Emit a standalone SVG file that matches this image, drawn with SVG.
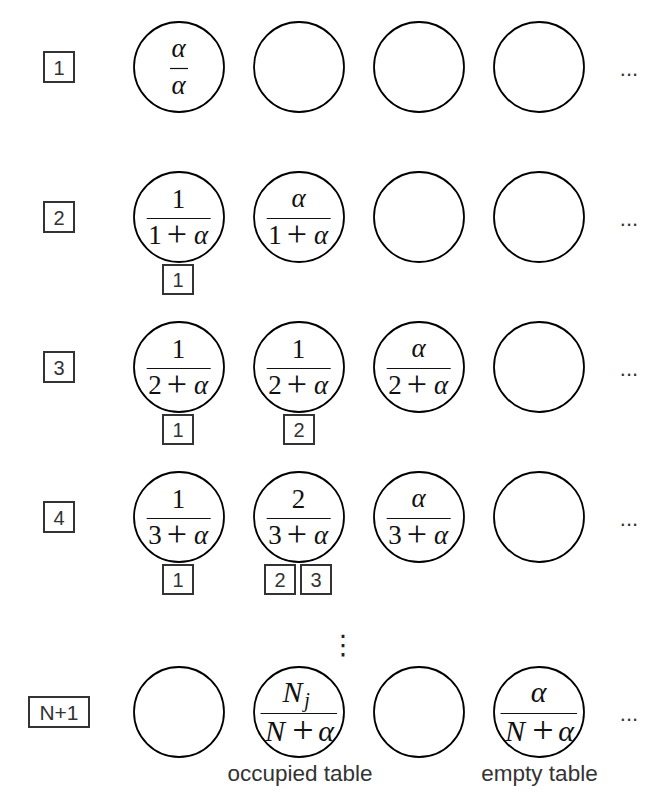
<svg xmlns="http://www.w3.org/2000/svg" width="667" height="803" viewBox="0 0 667 803">
<style>
.tbl{fill:none;stroke:#000;stroke-width:1.8}
.box{fill:none;stroke:#333;stroke-width:2}
.lbl{font-family:"Liberation Sans",Arial,sans-serif;font-size:20px;fill:#333;text-anchor:middle}
.cap{font-family:"Liberation Sans",Arial,sans-serif;font-size:22.5px;fill:#333;text-anchor:middle}
.dots{font-family:"Liberation Sans",Arial,sans-serif;font-size:22px;fill:#333;text-anchor:middle}
.m{font-family:"Liberation Serif","Times New Roman",serif;font-size:27px;fill:#111;text-anchor:middle}
.m5{font-family:"Liberation Serif","Times New Roman",serif;font-size:30px;fill:#111;text-anchor:middle}
.i{font-style:italic}
.pl{font-size:36px;font-weight:300}
.fl{stroke:#111;stroke-width:1.2}
</style>
<rect width="667" height="803" fill="#fff"/>

<!-- step labels -->
<g id="step-1"><rect class="box" x="44" y="52" width="30" height="30"/><text class="lbl" x="59" y="74.5">1</text></g>
<g id="step-2"><rect class="box" x="44" y="202" width="30" height="30"/><text class="lbl" x="59" y="224.5">2</text></g>
<g id="step-3"><rect class="box" x="44" y="352" width="30" height="30"/><text class="lbl" x="59" y="374.5">3</text></g>
<g id="step-4"><rect class="box" x="44" y="502" width="30" height="30"/><text class="lbl" x="59" y="524.5">4</text></g>
<g id="step-n1"><rect class="box" x="29" y="697" width="60" height="30"/><text class="lbl" x="59" y="719.5" style="font-size:21px">N+1</text></g>

<!-- row 1 -->
<g id="r1-t1"><circle class="tbl" cx="179" cy="67" r="45"/>
<text class="m i" x="178.5" y="57">α</text><line class="fl" x1="170" y1="68.5" x2="188" y2="68.5"/><text class="m i" x="178.5" y="94">α</text></g>
<g id="r1-t2"><circle class="tbl" cx="299" cy="67" r="45"/></g>
<g id="r1-t3"><circle class="tbl" cx="419" cy="67" r="45"/></g>
<g id="r1-t4"><circle class="tbl" cx="539" cy="67" r="45"/></g>
<text class="dots" x="629" y="75.5">...</text>

<!-- row 2 -->
<g id="r2-t1"><circle class="tbl" cx="179" cy="217" r="45"/>
<text class="m" x="178.5" y="208">1</text><line class="fl" x1="146.7" y1="218.5" x2="210.7" y2="218.5"/>
<text class="m" x="155" y="243.5">1</text><text class="m pl" x="177" y="245.5">+</text><text class="m i" x="201" y="243.5">α</text></g>
<g id="r2-t2"><circle class="tbl" cx="299" cy="217" r="45"/>
<text class="m i" x="298.5" y="207">α</text><line class="fl" x1="266.7" y1="218.5" x2="330.7" y2="218.5"/>
<text class="m" x="275" y="243.5">1</text><text class="m pl" x="297" y="245.5">+</text><text class="m i" x="321" y="243.5">α</text></g>
<g id="r2-t3"><circle class="tbl" cx="419" cy="217" r="45"/></g>
<g id="r2-t4"><circle class="tbl" cx="539" cy="217" r="45"/></g>
<g id="r2-c1"><rect class="box" x="163" y="265" width="30" height="29"/><text class="lbl" x="178" y="286.5">1</text></g>
<text class="dots" x="629" y="225.5">...</text>

<!-- row 3 -->
<g id="r3-t1"><circle class="tbl" cx="179" cy="367" r="45"/>
<text class="m" x="178.5" y="358">1</text><line class="fl" x1="146.7" y1="368.5" x2="210.7" y2="368.5"/>
<text class="m" x="155" y="393.5">2</text><text class="m pl" x="177" y="395.5">+</text><text class="m i" x="201" y="393.5">α</text></g>
<g id="r3-t2"><circle class="tbl" cx="299" cy="367" r="45"/>
<text class="m" x="298.5" y="358">1</text><line class="fl" x1="266.7" y1="368.5" x2="330.7" y2="368.5"/>
<text class="m" x="275" y="393.5">2</text><text class="m pl" x="297" y="395.5">+</text><text class="m i" x="321" y="393.5">α</text></g>
<g id="r3-t3"><circle class="tbl" cx="419" cy="367" r="45"/>
<text class="m i" x="418.5" y="357">α</text><line class="fl" x1="386.7" y1="368.5" x2="450.7" y2="368.5"/>
<text class="m" x="395" y="393.5">2</text><text class="m pl" x="417" y="395.5">+</text><text class="m i" x="441" y="393.5">α</text></g>
<g id="r3-t4"><circle class="tbl" cx="539" cy="367" r="45"/></g>
<g id="r3-c1"><rect class="box" x="163" y="415" width="30" height="29"/><text class="lbl" x="178" y="436.5">1</text></g>
<g id="r3-c2"><rect class="box" x="284" y="415" width="30" height="29"/><text class="lbl" x="299" y="436.5">2</text></g>
<text class="dots" x="629" y="375.5">...</text>

<!-- row 4 -->
<g id="r4-t1"><circle class="tbl" cx="179" cy="517" r="45"/>
<text class="m" x="178.5" y="508">1</text><line class="fl" x1="146.7" y1="518.5" x2="210.7" y2="518.5"/>
<text class="m" x="155" y="543.5">3</text><text class="m pl" x="177" y="545.5">+</text><text class="m i" x="201" y="543.5">α</text></g>
<g id="r4-t2"><circle class="tbl" cx="299" cy="517" r="45"/>
<text class="m" x="298.5" y="508">2</text><line class="fl" x1="266.7" y1="518.5" x2="330.7" y2="518.5"/>
<text class="m" x="275" y="543.5">3</text><text class="m pl" x="297" y="545.5">+</text><text class="m i" x="321" y="543.5">α</text></g>
<g id="r4-t3"><circle class="tbl" cx="419" cy="517" r="45"/>
<text class="m i" x="418.5" y="507">α</text><line class="fl" x1="386.7" y1="518.5" x2="450.7" y2="518.5"/>
<text class="m" x="395" y="543.5">3</text><text class="m pl" x="417" y="545.5">+</text><text class="m i" x="441" y="543.5">α</text></g>
<g id="r4-t4"><circle class="tbl" cx="539" cy="517" r="45"/></g>
<g id="r4-c1"><rect class="box" x="163" y="565" width="30" height="29"/><text class="lbl" x="178" y="586.5">1</text></g>
<g id="r4-c2"><rect class="box" x="265" y="565" width="30" height="29"/><text class="lbl" x="280" y="586.5">2</text></g>
<g id="r4-c3"><rect class="box" x="301" y="565" width="30" height="29"/><text class="lbl" x="316" y="586.5">3</text></g>
<text class="dots" x="629" y="525.5">...</text>

<text x="343" y="654" style="font-family:'DejaVu Sans',sans-serif;font-size:27px;fill:#222;text-anchor:middle">⋮</text>

<!-- row N+1 -->
<g id="r5-t1"><circle class="tbl" cx="179" cy="712" r="45"/></g>
<g id="r5-t2"><circle class="tbl" cx="299" cy="712" r="45"/>
<text class="m5 i" x="292.5" y="702">N</text><text class="m5 i" x="307" y="706.5" style="font-size:20px">j</text>
<line class="fl" x1="260.5" y1="713.5" x2="337" y2="713.5"/>
<text class="m5 i" x="275" y="741">N</text><text class="m5 pl" x="303" y="743" style="font-size:38px">+</text><text class="m5 i" x="326" y="741">α</text></g>
<g id="r5-t3"><circle class="tbl" cx="419" cy="712" r="45"/></g>
<g id="r5-t4"><circle class="tbl" cx="539" cy="712" r="45"/>
<text class="m5 i" x="538.5" y="702">α</text>
<line class="fl" x1="500.5" y1="713.5" x2="577" y2="713.5"/>
<text class="m5 i" x="515" y="741">N</text><text class="m5 pl" x="543" y="743" style="font-size:38px">+</text><text class="m5 i" x="566" y="741">α</text></g>
<text class="dots" x="629" y="720.5">...</text>

<text class="cap" x="300" y="781">occupied table</text>
<text class="cap" x="539.5" y="781">empty table</text>
</svg>
